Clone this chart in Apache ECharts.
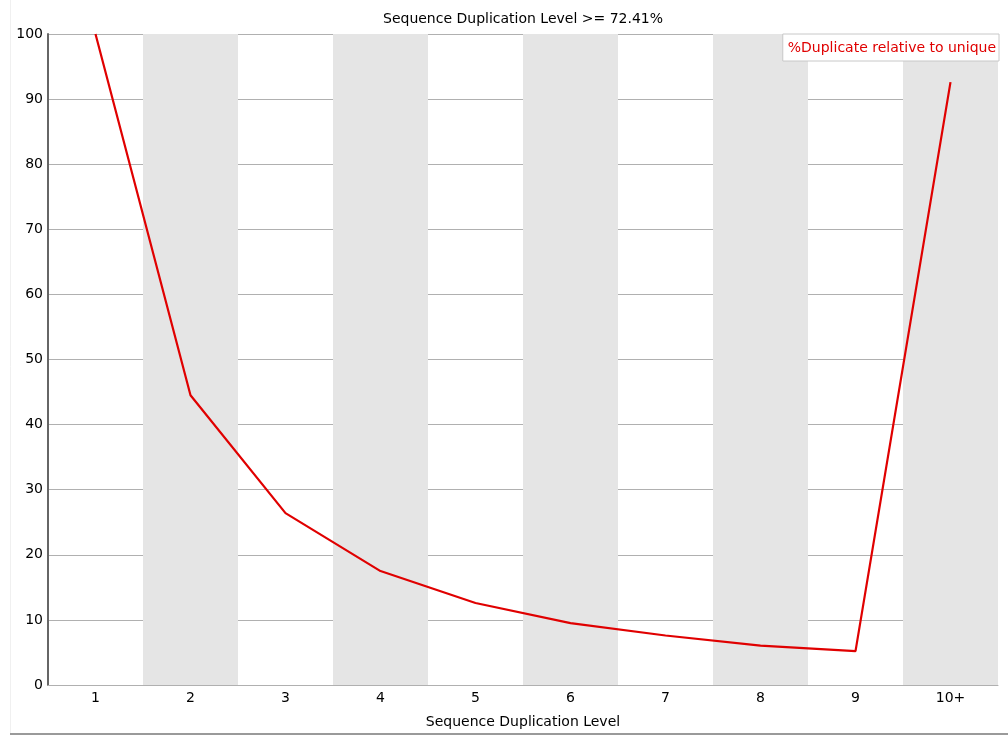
<!DOCTYPE html>
<html>
<head>
<meta charset="utf-8">
<script src="https://cdn.jsdelivr.net/npm/echarts@6/dist/echarts.min.js"></script>
<style>
html,body{margin:0;padding:0;background:#fff;}
#chart{width:1008px;height:736px;}
</style>
</head>
<body>
<div id="chart"></div>
<script>
const categories = ['1','2','3','4','5','6','7','8','9','10+'];
const duplicateRelative = [100, 44.5, 26.4, 17.5, 12.6, 9.5, 7.6, 6.05, 5.2, 92.6];
const seriesName = '%Duplicate relative to unique';
const titleText = 'Sequence Duplication Level >= 72.41%';
const xAxisName = 'Sequence Duplication Level';

const chart = echarts.init(document.getElementById('chart'), null, {renderer: 'canvas'});
const FONT = 'DejaVu Sans';
chart.setOption({
  animation: false,
  backgroundColor: '#fff',
  textStyle: {fontFamily: FONT},
  title: {
    text: titleText,
    left: 378, top: 7,
    textStyle: {fontFamily: FONT, fontSize: 14, fontWeight: 'normal', color: '#000'}
  },
  legend: {
    data: [seriesName],
    right: 9, top: 34,
    icon: 'none',
    itemWidth: 0, itemHeight: 0, itemGap: 0,
    padding: [7, 3, 6, 0],
    borderColor: '#c8c8c8', borderWidth: 1,
    backgroundColor: '#fff',
    textStyle: {fontFamily: FONT, fontSize: 14, color: '#e00000'}
  },
  grid: {left: 48, right: 10, top: 34, bottom: 51, containLabel: false, outerBoundsMode: 'none'},
  xAxis: {
    type: 'category',
    data: categories,
    boundaryGap: true,
    name: xAxisName,
    nameLocation: 'middle',
    nameGap: 30,
    nameTextStyle: {fontFamily: FONT, fontSize: 14, color: '#000'},
    axisLine: {lineStyle: {color: '#b0b0b0', width: 1}},
    axisTick: {show: false},
    axisLabel: {fontFamily: FONT, fontSize: 14, color: '#000', margin: 6},
    splitLine: {show: false},
    splitArea: {show: true, areaStyle: {color: ['rgba(255,255,255,0)', '#e5e5e5']}}
  },
  yAxis: {
    type: 'value',
    min: 0, max: 100, interval: 10,
    axisLine: {show: true, lineStyle: {color: '#666', width: 2}},
    axisTick: {show: false},
    axisLabel: {fontFamily: FONT, fontSize: 14, color: '#000', margin: 5},
    splitLine: {show: true, lineStyle: {color: '#b0b0b0', width: 1}}
  },
  graphic: [
    {type: 'line', silent: true, z: -1, shape: {x1: 10, y1: 734, x2: 1008, y2: 734}, style: {stroke: '#9a9a9a', lineWidth: 2}},
    {type: 'line', silent: true, z: -1, shape: {x1: 10.5, y1: 0, x2: 10.5, y2: 733}, style: {stroke: '#f0f0f0', lineWidth: 1}}
  ],
  series: [{
    name: seriesName,
    type: 'line',
    data: duplicateRelative,
    showSymbol: false,
    symbol: 'none',
    lineStyle: {color: '#e00000', width: 2.2},
    itemStyle: {color: '#e00000'},
    z: 5
  }]
});
</script>
</body>
</html>
